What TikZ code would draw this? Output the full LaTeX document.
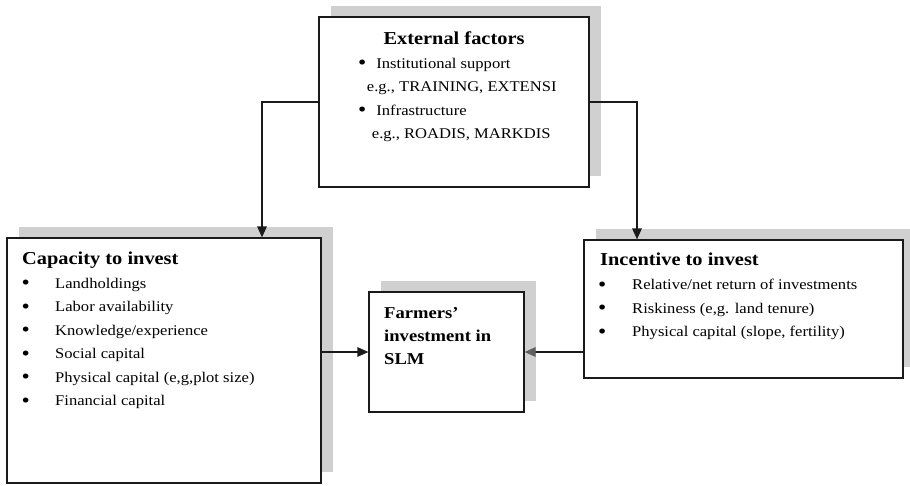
\documentclass[tikz,border=0pt]{standalone}
\usepackage{fontspec}
\setmainfont{Liberation Serif}[FakeStretch=1.12]
\definecolor{shade}{HTML}{D0D0D0}
\definecolor{inkline}{HTML}{1A1A1A}
\definecolor{tipgray}{HTML}{5F5F5F}
\usetikzlibrary{arrows.meta,positioning,shadows}
\newcommand{\blt}{\raisebox{-1.8pt}{\fontsize{21}{21}\selectfont\textbullet}}

\begin{document}
\begin{tikzpicture}[
  x=1pt, y=-1pt,
  box/.style={rectangle, draw=inkline, line width=1.2pt, fill=white, inner sep=0pt,
    drop shadow={shadow xshift=12pt, shadow yshift=11pt, fill=shade, opacity=1}},
  head/.style={inner sep=0pt, anchor=base west, font=\fontsize{18.2}{22}\selectfont\bfseries},
  list/.style={inner sep=0pt, anchor=base west, font=\fontsize{14.8}{23.5}\selectfont},
  link/.style={draw=inkline, line width=1.3pt, -{Triangle[length=11pt,width=9.5pt]}},
]
\useasboundingbox (0,0) rectangle (910,485);

% the four boxes
\node[box, minimum width=270pt, minimum height=170pt] (ext) at (454,102) {};
\node[box, minimum width=314pt, minimum height=245pt] (cap) at (164,360.5) {};
\node[box, minimum width=155pt, minimum height=120pt] (farm) at (446.5,352) {};
\node[box, minimum width=319pt, minimum height=138pt] (inc) at (743.5,309) {};

% external factors
\node[head, anchor=base] (exttitle) at (454,44.5) {External factors};
\node[list] (extlist) at (358,68) {\begin{tabular}[t]{@{}l@{}}
  \blt\hspace{10pt}Institutional support\\
  \hspace*{8.7pt}e.g., TRAINING, EXTENSI\\
  \blt\hspace{10pt}Infrastructure\\
  \hspace*{13.7pt}e.g., ROADIS, MARKDIS
\end{tabular}};

% capacity
\node[head] (captitle) at (22,264) {Capacity to invest};
\node[list] (caplist) at (21.5,288) {\begin{tabular}[t]{@{}p{33.5pt}@{}l@{}}
  \blt & Landholdings\\
  \blt & Labor availability\\
  \blt & Knowledge/experience\\
  \blt & Social capital\\
  \blt & Physical capital (e,g,plot size)\\
  \blt & Financial capital
\end{tabular}};

% outcome
\node[head, font=\fontsize{16.6}{23}\selectfont\bfseries] (farmtext) at (384,318)
  {\begin{tabular}[t]{@{}l@{}}Farmers'\\investment in\\SLM\end{tabular}};

% incentive
\node[head] (inctitle) at (600,265) {Incentive to invest};
\node[list] (inclist) at (598,289.5) {\begin{tabular}[t]{@{}p{34pt}@{}l@{}}
  \blt & Relative/net return of investments\\
  \blt & Riskiness (e,g. land tenure)\\
  \blt & Physical capital (slope, fertility)
\end{tabular}};

% connectors
\draw[link] (ext.west) -| ([xshift=98pt]cap.north);
\draw[link] (ext.east) -| ([xshift=-106.5pt]inc.north);
\draw[link] (cap.east |- farm.west) -- (farm.west);
\draw[draw=inkline, line width=1.3pt, -{Triangle[length=11pt,width=9.5pt,color=tipgray]}]
  (inc.west |- farm.east) -- (farm.east);
\end{tikzpicture}
\end{document}
